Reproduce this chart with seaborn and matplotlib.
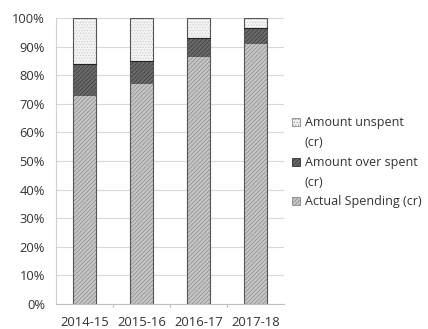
import matplotlib
matplotlib.use("Agg")
import matplotlib.pyplot as plt
import seaborn as sns
import pandas as pd
import numpy as np
from matplotlib.patches import Patch

years = ["2014-15", "2015-16", "2016-17", "2017-18"]
actual = [72.8, 76.9, 86.4, 90.8]
over = [11.1, 8.1, 6.8, 5.9]
unspent = [16.1, 15.0, 6.8, 3.3]
yticks = [0, 10, 20, 30, 40, 50, 60, 70, 80, 90, 100]
legend_labels = ["Amount unspent", "(cr)", "Amount over spent", "(cr)", "Actual Spending (cr)"]

sns.set_style("white")
plt.rcParams["font.family"] = ["Open Sans", "DejaVu Sans"]
plt.rcParams["hatch.linewidth"] = 0.5

df = pd.DataFrame({"year": years, "actual": actual, "over": over, "unspent": unspent})
df["top2"] = df["actual"] + df["over"]
df["top3"] = df["top2"] + df["unspent"]

fig = plt.figure(figsize=(4.28, 3.29), dpi=100)
ax = fig.add_axes([0.131, 0.076, 0.533, 0.869])

layers = [
    ("top3", "#f4f4f4", "#c8c8c8", "......"),
    ("top2", "#6a6a6a", "#3a3a3a", "////////"),
    ("actual", "#c6c6c6", "#8a8a8a", "////////"),
]
for col, fc, hc, hatch in layers:
    sns.barplot(data=df, x="year", y=col, ax=ax, color=fc, width=0.4,
                edgecolor=hc, linewidth=0.0, saturation=1)
    for p in ax.patches[-len(years):]:
        p.set_hatch(hatch)
        p.set_edgecolor(hc)
# outlines
sns.barplot(data=df, x="year", y="top3", ax=ax, fill=False, width=0.4,
            edgecolor="#555555", linewidth=0.8)
for i in range(len(years)):
    ax.plot([i - 0.2, i + 0.2], [df["top2"][i]] * 2, color="#222222", lw=0.8, zorder=5)

ax.set_ylim(0, 100)
ax.set_xlim(-0.5, 3.5)
ax.set_yticks(yticks)
ax.set_yticklabels([f"{t}%" for t in yticks], fontsize=9.3, color="#333333")
ax.set_xticks(range(len(years)))
ax.set_xticklabels(years, fontsize=9.4, color="#333333")
ax.set_xlabel("")
ax.set_ylabel("")
ax.yaxis.grid(True, color="#d9d9d9", linewidth=0.8)
ax.set_axisbelow(True)
for s in ["top", "right"]:
    ax.spines[s].set_visible(False)
ax.spines["left"].set_color("#d0d0d0")
ax.spines["bottom"].set_color("#c0c0c0")
ax.tick_params(axis="y", length=4, color="#d0d0d0", pad=4)
ax.tick_params(axis="x", length=0, pad=9)
for b in [0.5, 1.5, 2.5]:
    ax.plot([b, b], [0, -1.2], color="#c0c0c0", lw=0.8, clip_on=False)

blank = Patch(facecolor="none", edgecolor="none")
handles = [
    Patch(facecolor="#f4f4f4", edgecolor="#888888", hatch="......", linewidth=0.6),
    blank,
    Patch(facecolor="#6a6a6a", edgecolor="#333333", hatch="////////", linewidth=0.6),
    blank,
    Patch(facecolor="#c6c6c6", edgecolor="#888888", hatch="////////", linewidth=0.6),
]
leg = fig.legend(handles, legend_labels, loc="upper left", bbox_to_anchor=(0.683, 0.646),
                 frameon=False, fontsize=9.0, handlelength=0.6, handleheight=0.6,
                 handletextpad=0.4, labelspacing=0.54, borderaxespad=0, borderpad=0)
for t in leg.get_texts():
    t.set_color("#333333")

fig.savefig("out.png", dpi=100)
